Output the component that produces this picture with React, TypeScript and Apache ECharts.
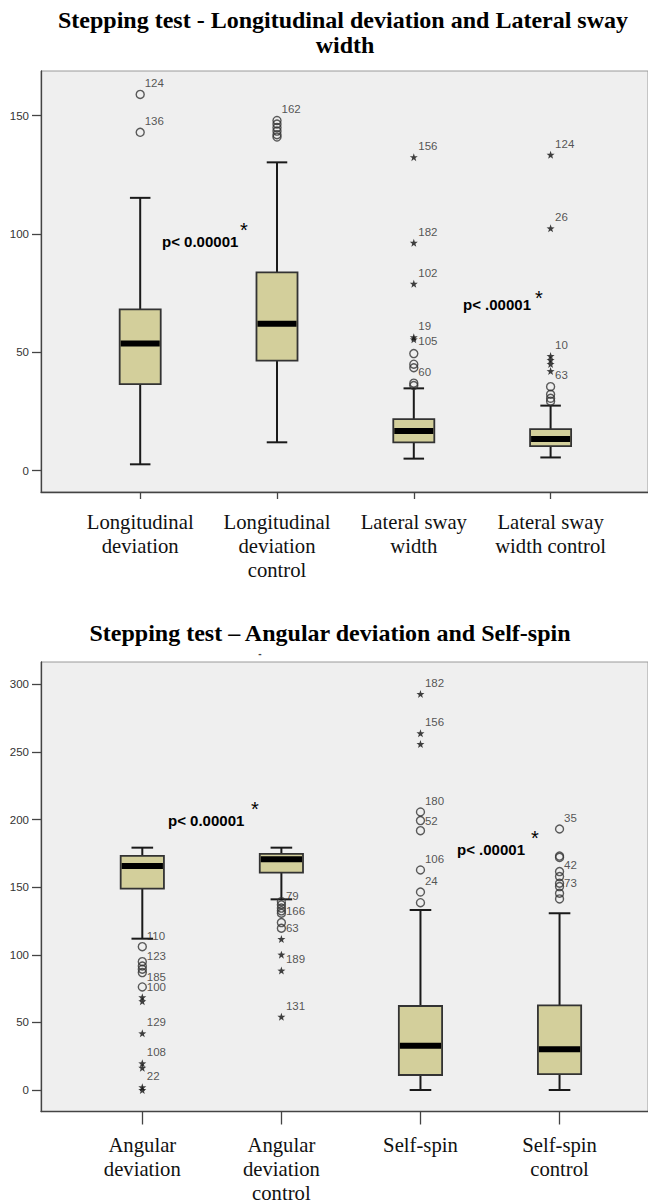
import React, { useEffect, useRef } from 'react';
import * as echarts from 'echarts';

// ---------- Top chart data ----------
const topTitle = ['Stepping test - Longitudinal deviation and Lateral sway', 'width'];
const topCategories = ['Longitudinal\ndeviation', 'Longitudinal\ndeviation\ncontrol', 'Lateral sway\nwidth', 'Lateral sway\nwidth control'];
// [lower whisker, Q1, median, Q3, upper whisker]
const topBoxes = [
  [2.7, 36.6, 53.8, 68.2, 115.3],
  [12.0, 46.5, 62.1, 83.8, 130.3],
  [5.1, 12.0, 16.8, 21.8, 34.8],
  [5.6, 10.4, 13.4, 17.6, 27.5],
];
const topCircles = [
  [159, 143],
  [148, 146.5, 145, 143.5, 142, 141],
  [49.5, 45, 43.5, 37, 36],
  [35.5, 32.3, 30.6, 29.4],
];
const topStars = [
  [],
  [],
  [132.5, 96.3, 79, 56.4, 55.5],
  [133.5, 102.4, 48.5, 46.8, 45.1, 42.1],
];
// [category, value, text, placement]
const topLabels: [number, number, string, string][] = [
  [1, 159, '124', 'tr'], [1, 143, '136', 'tr'], [2, 148, '162', 'tr'],
  [3, 132.5, '156', 'tr'], [3, 96.3, '182', 'tr'], [3, 79, '102', 'tr'],
  [3, 56.4, '19', 'tr'], [3, 56.4, '105', 'r'], [3, 43.5, '60', 'r'],
  [4, 133.5, '124', 'tr'], [4, 102.4, '26', 'tr'], [4, 48.5, '10', 'tr'], [4, 42.1, '63', 'r'],
];
const topTicks = [0, 50, 100, 150];
const topPLeft = 'p< 0.00001';
const topPRight = 'p< .00001';

// ---------- Bottom chart data ----------
const bottomTitle = 'Stepping test \u2013 Angular deviation and Self-spin';
const bottomCategories = ['Angular\ndeviation', 'Angular\ndeviation\ncontrol', 'Self-spin', 'Self-spin\ncontrol'];
const bottomBoxes = [
  [111.9, 148.9, 165.7, 173.1, 179.2],
  [141, 160.7, 170.6, 174.6, 179.2],
  [0, 11.1, 32.8, 62.1, 133.1],
  [0, 11.8, 30.1, 62.6, 130.7],
];
const bottomCircles = [
  [106, 94.9, 91.7, 89.3, 86.8, 76.2],
  [139.3, 137, 134.5, 132.5, 130.7, 123.8, 119.6],
  [205.6, 199.2, 191.8, 162.7, 146.4, 138.5],
  [193, 173, 172, 161.5, 157.8, 152.9, 150.4, 145.5, 141.3],
];
const bottomStars = [
  [68.6, 65.6, 41.9, 19.7, 16.5, 2.0, 0],
  [111.7, 100.1, 88.3, 54.2],
  [292.9, 263.8, 255.9],
  [],
];
const bottomLabels: [number, number, string, string][] = [
  [1, 106, '110', 'tr'], [1, 94.9, '123', 'ur'], [1, 86.8, '185', 'r'], [1, 76.2, '100', 'm'],
  [1, 41.9, '129', 'tr'], [1, 19.7, '108', 'tr'], [1, 2.0, '22', 'tr'],
  [2, 139.3, '79', 'ur'], [2, 132.5, '166', 'm'], [2, 119.6, '63', 'm'], [2, 100.1, '189', 'r'], [2, 54.2, '131', 'tr'],
  [3, 292.9, '182', 'tr'], [3, 263.8, '156', 'tr'], [3, 205.6, '180', 'tr'], [3, 199.2, '52', 'm'],
  [3, 162.7, '106', 'tr'], [3, 146.4, '24', 'tr'],
  [4, 193, '35', 'tr'], [4, 172, '42', 'br'], [4, 152.9, '73', 'm'],
];
const bottomTicks = [0, 50, 100, 150, 200, 250, 300];
const bottomPLeft = 'p< 0.00001';
const bottomPRight = 'p< .00001';

const STAR = 'path://M0,-10L2.35,-3.24L9.51,-3.09L3.8,1.24L5.88,8.09L0,4L-5.88,8.09L-3.8,1.24L-9.51,-3.09L-2.35,-3.24Z';
const labelDy: Record<string, number> = { tr: -11, ur: -6, m: 0, r: 4, br: 8 };

function makeX(gridIndex: number, cats: string[], min: number, max: number, tickLen: number, margin: number) {
  const pos = cats.map((_, i) => i + 1);
  return {
    type: 'value', gridIndex, min, max, position: 'bottom',
    axisLine: { show: true, onZero: false, lineStyle: { color: '#444', width: 1.3 } },
    axisTick: { show: true, customValues: pos, length: tickLen, lineStyle: { color: '#444', width: 1.3 } },
    axisLabel: {
      show: true, customValues: pos, margin,
      formatter: (v: number) => cats[Math.round(v) - 1] ?? '',
      fontFamily: 'Liberation Serif', fontSize: 20.7, lineHeight: 24, color: '#111',
    },
    splitLine: { show: false },
  };
}

function makeY(gridIndex: number, min: number, max: number, ticks: number[]) {
  return {
    type: 'value', gridIndex, min, max,
    axisLine: { show: true, onZero: false, lineStyle: { color: '#444', width: 1.3 } },
    axisTick: { show: true, customValues: ticks, length: 9, lineStyle: { color: '#444', width: 1.3 } },
    axisLabel: { show: true, customValues: ticks, margin: 12, fontFamily: 'Liberation Sans', fontSize: 11.5, color: '#333' },
    splitLine: { show: false },
  };
}

function makeSeries(idx: number, boxes: number[][], circles: number[][], stars: number[][], labels: [number, number, string, string][], boxW: number) {
  const boxData = boxes.map((b, i) => [i + 1, ...b]);
  const circleData = circles.flatMap((vals, i) => vals.map((v) => [i + 1, v]));
  const starData = stars.flatMap((vals, i) => vals.map((v) => [i + 1, v]));
  const labelData = labels.map(([c, v, t, p]) => ({
    value: [c, v],
    label: { formatter: t, offset: [0, labelDy[p]] },
  }));
  return [
    {
      type: 'custom', xAxisIndex: idx, yAxisIndex: idx, data: boxData, z: 2,
      renderItem: (params: any, api: any) => {
        const x = api.value(0);
        const lo = api.coord([x, api.value(1)]);
        const q1 = api.coord([x, api.value(2)]);
        const med = api.coord([x, api.value(3)]);
        const q3 = api.coord([x, api.value(4)]);
        const hi = api.coord([x, api.value(5)]);
        const w = api.size([boxW, 0])[0];
        const cx = lo[0];
        const cap = w / 2;
        const ws = { stroke: '#1a1a1a', lineWidth: 2 };
        return {
          type: 'group',
          children: [
            { type: 'line', shape: { x1: cx, y1: hi[1], x2: cx, y2: q3[1] }, style: ws },
            { type: 'line', shape: { x1: cx, y1: q1[1], x2: cx, y2: lo[1] }, style: ws },
            { type: 'line', shape: { x1: cx - cap / 2, y1: hi[1], x2: cx + cap / 2, y2: hi[1] }, style: ws },
            { type: 'line', shape: { x1: cx - cap / 2, y1: lo[1], x2: cx + cap / 2, y2: lo[1] }, style: ws },
            { type: 'rect', shape: { x: cx - w / 2, y: q3[1], width: w, height: q1[1] - q3[1] }, style: { fill: '#d3cf9b', stroke: '#333', lineWidth: 1.8 } },
            { type: 'line', shape: { x1: cx - w / 2 + 1, y1: med[1], x2: cx + w / 2 - 1, y2: med[1] }, style: { stroke: '#000', lineWidth: 6 } },
          ],
        };
      },
    },
    {
      type: 'scatter', xAxisIndex: idx, yAxisIndex: idx, data: circleData, z: 3,
      symbol: 'circle', symbolSize: 8,
      itemStyle: { color: 'rgba(0,0,0,0)', borderColor: '#333', borderWidth: 1.4 },
    },
    {
      type: 'scatter', xAxisIndex: idx, yAxisIndex: idx, data: starData, z: 3,
      symbol: STAR, symbolSize: 8,
      itemStyle: { color: '#111' },
    },
    {
      type: 'scatter', xAxisIndex: idx, yAxisIndex: idx, data: labelData, z: 4,
      symbol: 'circle', symbolSize: 1, silent: true,
      itemStyle: { color: 'rgba(0,0,0,0)' },
      label: { show: true, position: 'right', distance: 4, fontFamily: 'Liberation Sans', fontSize: 11.5, color: '#2a2a2a' },
    },
  ];
}

function txt(text: string, x: number, y: number, font: string, align = 'left', color = '#000') {
  return {
    type: 'text', x, y, silent: true, z: 10,
    style: { text, font, fill: color, align, verticalAlign: 'middle', textAlign: align, textVerticalAlign: 'middle' },
  };
}

export default function App() {
  const ref = useRef<HTMLDivElement>(null);
  useEffect(() => {
    if (!ref.current) return;
    const chart = echarts.init(ref.current, undefined, { renderer: 'svg' });
    const titleFont = 'bold 24px "Liberation Serif"';
    const pFont = 'bold 15px "Liberation Sans"';
    const starFont = '20px "Liberation Sans"';
    chart.setOption({
      animation: false,
      backgroundColor: '#fff',
      graphic: [
        txt(topTitle[0], 343, 20, titleFont, 'center'),
        txt(topTitle[1], 345, 45, titleFont, 'center'),
        txt(bottomTitle, 330, 633, titleFont, 'center'),
        txt('-', 260, 653, 'bold 10px "Liberation Sans"', 'center', '#444'),
        txt(topPLeft, 162, 241, pFont),
        txt('*', 244, 230, starFont, 'center'),
        txt(topPRight, 463, 304, pFont),
        txt('*', 539, 298, starFont, 'center'),
        txt(bottomPLeft, 168, 820, pFont),
        txt('*', 255, 809, starFont, 'center'),
        txt(bottomPRight, 457, 849, pFont),
        txt('*', 535, 838, starFont, 'center'),
      ],
      grid: [
        { left: 41, top: 71, width: 607, height: 421, show: true, backgroundColor: '#efefef', borderColor: '#9a9a9a', borderWidth: 1, outerBoundsMode: 'none', containLabel: false },
        { left: 41, top: 662, width: 607, height: 449.5, show: true, backgroundColor: '#efefef', borderColor: '#9a9a9a', borderWidth: 1, outerBoundsMode: 'none', containLabel: false },
      ],
      xAxis: [
        makeX(0, topCategories, 0.2749, 4.712, 7, 18),
        makeX(1, bottomCategories, 0.2716, 4.636, 13, 21.5),
      ],
      yAxis: [
        makeY(0, -9, 168.9, topTicks),
        makeY(1, -15.9, 316.5, bottomTicks),
      ],
      series: [
        ...makeSeries(0, topBoxes, topCircles, topStars, topLabels, 0.3),
        ...makeSeries(1, bottomBoxes, bottomCircles, bottomStars, bottomLabels, 0.311),
      ],
    });
    return () => chart.dispose();
  }, []);
  return <div ref={ref} style={{ position: 'absolute', left: 0, top: 0, width: 648, height: 1200 }} />;
}
